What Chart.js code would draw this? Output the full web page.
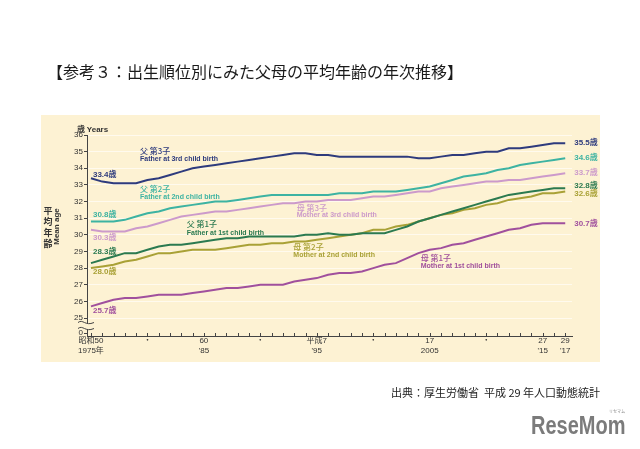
<!DOCTYPE html>
<html><head><meta charset="utf-8">
<script src="https://cdn.jsdelivr.net/npm/chart.js@4"></script>
<style>
html,body{margin:0;padding:0;background:#fff;}
#wrap{position:relative;width:640px;height:449px;overflow:hidden;background:#fff;}
canvas{position:absolute;left:0;top:0;}
.t{position:absolute;white-space:nowrap;font-family:'Noto Sans CJK JP',sans-serif;}
</style></head><body>
<div id="wrap">
<canvas id="c" width="640" height="449"></canvas>
<div class="t" style="left:47px;top:61px;font-size:16px;line-height:20px;color:#1a1a1a;">【参考３：出生順位別にみた父母の平均年齢の年次推移】</div>
<div class="t" style="left:391px;top:385px;font-size:11px;line-height:14px;color:#222;">出典：厚生労働省&nbsp; 平成 29 年人口動態統計</div>
<div class="t" style="left:531px;top:411px;font-family:'Liberation Sans',Arial,sans-serif;font-weight:bold;font-size:25px;line-height:28px;color:#7b7b7b;transform:scaleX(0.8);transform-origin:left top;">ReseMom</div>
<div class="t" style="left:609px;top:409px;font-size:4px;line-height:5px;color:#888;">リセマム</div>
<div class="t" style="left:77px;top:124px;font-size:8px;line-height:10px;font-weight:bold;color:#333;">歳 <span style="font-family:'Liberation Sans',sans-serif;">Years</span></div>
</div>
<script>
const years = [1975,1976,1977,1978,1979,1980,1981,1982,1983,1984,1985,1986,1987,1988,1989,1990,1991,1992,1993,1994,1995,1996,1997,1998,1999,2000,2001,2002,2003,2004,2005,2006,2007,2008,2009,2010,2011,2012,2013,2014,2015,2016,2017];
const father3 = [33.4,33.2,33.1,33.1,33.1,33.3,33.4,33.6,33.8,34.0,34.1,34.2,34.3,34.4,34.5,34.6,34.7,34.8,34.9,34.9,34.8,34.8,34.7,34.7,34.7,34.7,34.7,34.7,34.7,34.6,34.6,34.7,34.8,34.8,34.9,35.0,35.0,35.2,35.2,35.3,35.4,35.5,35.5];
const father2 = [30.8,30.8,30.8,30.9,31.1,31.3,31.4,31.6,31.7,31.8,31.9,32.0,32.0,32.1,32.2,32.3,32.4,32.4,32.4,32.4,32.4,32.4,32.5,32.5,32.5,32.6,32.6,32.6,32.7,32.8,32.9,33.1,33.3,33.5,33.6,33.7,33.9,34.0,34.2,34.3,34.4,34.5,34.6];
const mother3 = [30.3,30.2,30.2,30.2,30.4,30.5,30.7,30.9,31.1,31.2,31.3,31.4,31.4,31.5,31.6,31.7,31.8,31.9,31.9,32.0,32.0,32.1,32.1,32.1,32.2,32.3,32.3,32.4,32.5,32.6,32.6,32.8,32.9,33.0,33.1,33.2,33.2,33.3,33.3,33.4,33.5,33.6,33.7];
const father1 = [28.3,28.5,28.7,28.9,28.9,29.1,29.3,29.4,29.4,29.5,29.6,29.7,29.8,29.8,29.9,29.9,29.9,29.9,29.9,30.0,30.0,30.1,30.0,30.0,30.1,30.1,30.1,30.3,30.5,30.8,31.0,31.2,31.4,31.6,31.8,32.0,32.2,32.4,32.5,32.6,32.7,32.8,32.8];
const mother2 = [28.0,28.1,28.2,28.4,28.5,28.7,28.9,28.9,29.0,29.1,29.1,29.1,29.2,29.3,29.4,29.4,29.5,29.5,29.6,29.6,29.7,29.8,29.9,30.0,30.1,30.3,30.3,30.5,30.6,30.8,31.0,31.2,31.3,31.5,31.6,31.8,31.9,32.1,32.2,32.3,32.5,32.5,32.6];
const mother1 = [25.7,25.9,26.1,26.2,26.2,26.3,26.4,26.4,26.4,26.5,26.6,26.7,26.8,26.8,26.9,27.0,27.0,27.0,27.2,27.3,27.4,27.6,27.7,27.7,27.8,28.0,28.2,28.3,28.6,28.9,29.1,29.2,29.4,29.5,29.7,29.9,30.1,30.3,30.4,30.6,30.7,30.7,30.7];

const xLabelYears  = [1975,1980,1985,1990,1995,2000,2005,2010,2015,2017];
const xLabelTop    = ['昭和50','・','60','・','平成7','・','17','・','27','29'];
const xLabelBottom = ['1975年','',"'85",'',"'95",'','2005','',"'15","'17"];
const yTickValues  = [25,26,27,28,29,30,31,32,33,34,35,36];
const yBreakLabel  = '0';
const yTitleJa = '平均年齢';
const yTitleEn = 'Mean age';

const seriesNamesJa = ['父 第3子','父 第2子','母 第3子','父 第1子','母 第2子','母 第1子'];
const seriesNamesEn = ['Father at 3rd child birth','Father at 2nd child birth','Mother at 3rd child birth','Father at 1st child birth','Mother at 2nd child birth','Mother at 1st child birth'];
const seriesValues = [father3, father2, mother3, father1, mother2, mother1];
const seriesColors = ['#2e3b7d','#3db3a2','#cc9acb','#2b7a50','#a9a136','#a0509d'];

// annotation anchors in data coordinates (year, value)
const nameAnchors  = [[1979.34,35.04,34.53],[1979.34,32.78,32.27],[1993.22,31.61,31.16],[1983.48,30.65,30.11],[1992.92,29.27,28.76],[2004.2,28.61,28.13]];
const startAnchors = [33.63,31.19,29.84,28.97,27.77,25.45];
const endAnchors   = [35.52,34.62,33.72,32.97,32.46,30.65];
const CREAM = '#fdf2d3';

Chart.defaults.font.family = "'Liberation Sans','Noto Sans CJK JP',sans-serif";
Chart.defaults.color = '#333';

const bgPlugin = {
  id:'bg',
  beforeDraw(chart){
    const c = chart.ctx;
    c.save();
    c.fillStyle = '#fff'; c.fillRect(0,0,chart.width,chart.height);
    c.fillStyle = CREAM; c.fillRect(41,115,559,247);
    c.restore();
  }
};

const decoPlugin = {
  id:'deco',
  afterDraw(chart){
    const c = chart.ctx, xs = chart.scales.x, ys = chart.scales.y, ca = chart.chartArea;
    c.save();
    c.strokeStyle = '#444'; c.lineWidth = 1;
    c.beginPath();
    xs.ticks.forEach(t => {
      const x = Math.round(xs.getPixelForValue(t.value)) + 0.5;
      c.moveTo(x, ca.bottom); c.lineTo(x, ca.bottom - 3);
    });
    c.stroke();
    // axis break
    const yb1 = ys.getPixelForValue(24.55) - 3, yb2 = yb1 + 6, x0 = ca.left - 9, x1 = ca.left + 7;
    c.fillStyle = CREAM;
    c.beginPath();
    c.moveTo(x0, yb1);
    c.bezierCurveTo(x0+5, yb1-4, x1-9, yb1+4, x1, yb1);
    c.lineTo(x1, yb2);
    c.bezierCurveTo(x1-9, yb2+4, x0+5, yb2-4, x0, yb2);
    c.closePath(); c.fill();
    c.strokeStyle = '#444'; c.lineWidth = 1;
    [yb1, yb2].forEach(yy => {
      c.beginPath();
      c.moveTo(x0, yy);
      c.bezierCurveTo(x0+5, yy-4, x1-9, yy+4, x1, yy);
      c.stroke();
    });
    // y-axis titles
    c.fillStyle = '#333';
    c.textAlign = 'center'; c.textBaseline = 'middle';
    c.font = "bold 9px 'Noto Sans CJK JP'";
    const yMid = ys.getPixelForValue(30.5);
    Array.from(yTitleJa).forEach((ch, k) => c.fillText(ch, 48, yMid - 16 + k * 11));
    c.save();
    c.translate(57, yMid); c.rotate(-Math.PI / 2);
    c.font = "bold 8px 'Liberation Sans'";
    c.fillText(yTitleEn, 0, 0);
    c.restore();
    // annotations
    c.textBaseline = 'middle'; c.textAlign = 'left';
    seriesValues.forEach((vals, i) => {
      c.fillStyle = seriesColors[i];
      const a = nameAnchors[i];
      const xn = xs.getPixelForValue(a[0]);
      c.font = "500 8px 'Noto Sans CJK JP'";
      c.fillText(seriesNamesJa[i], xn, ys.getPixelForValue(a[1]));
      c.font = "bold 7px 'Liberation Sans'";
      c.fillText(seriesNamesEn[i], xn, ys.getPixelForValue(a[2]));
      c.font = "bold 8px 'Liberation Sans','Noto Sans CJK JP'";
      c.fillText(vals[0].toFixed(1) + '歳', xs.getPixelForValue(years[0]) + 2, ys.getPixelForValue(startAnchors[i]));
      c.fillText(vals[vals.length-1].toFixed(1) + '歳', xs.getPixelForValue(years[years.length-1]) + 9, ys.getPixelForValue(endAnchors[i]));
    });
    c.restore();
  }
};

new Chart(document.getElementById('c'), {
  type:'line',
  data:{
    datasets: seriesValues.map((vals, i) => ({
      data: years.map((yr, k) => ({x: yr, y: vals[k]})),
      borderColor: seriesColors[i], borderWidth: 2, pointRadius: 0, tension: 0, fill: false
    }))
  },
  options:{
    responsive:false, animation:false, devicePixelRatio:1,
    layout:{padding:{left:0,right:68,top:135,bottom:83}},
    plugins:{legend:{display:false}, tooltip:{enabled:false}},
    scales:{
      x:{
        type:'linear', min:1974.65, max:2017.6,
        afterFit(s){ s.height = 30; },
        afterBuildTicks(s){ s.ticks = years.map(v => ({value:v})); },
        grid:{display:true, drawOnChartArea:false, drawTicks:false, color:'rgba(0,0,0,0)'},
        border:{display:true, color:'#444', width:1},
        ticks:{autoSkip:false, maxRotation:0, minRotation:0, padding:0, font:{size:8}, color:'#333',
          callback(v){ const i = xLabelYears.indexOf(v); if (i < 0) return ''; return xLabelBottom[i] ? [xLabelTop[i], xLabelBottom[i]] : xLabelTop[i]; }}
      },
      y:{
        type:'linear', min:23.92, max:36,
        afterFit(s){ s.width = 87; },
        afterBuildTicks(s){ s.ticks = [{value:24.1}].concat(yTickValues.map(v => ({value:v}))); },
        grid:{color(c){ return c.tick && c.tick.value >= 25 ? '#fffaee' : 'rgba(0,0,0,0)'; }, tickColor:'#444', tickLength:3, lineWidth:1},
        border:{display:true, color:'#444', width:1},
        ticks:{padding:1, font:{size:8}, color:'#333', callback(v){ return v < 25 ? yBreakLabel : String(v); }}
      }
    }
  },
  plugins:[bgPlugin, decoPlugin]
});
</script>
</body></html>
